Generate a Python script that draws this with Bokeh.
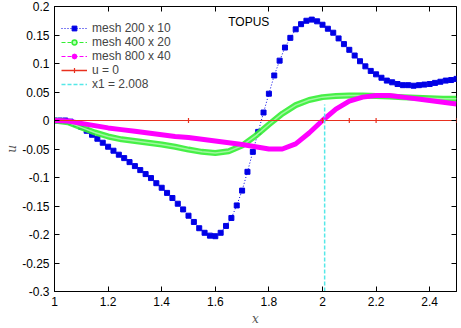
from bokeh.plotting import figure
from bokeh.models import LinearAxis, Range1d, Legend, LegendItem, Label, FixedTicker
from bokeh.embed import file_html
from bokeh.resources import INLINE

# ---------------- data ----------------
xb = [1.00, 1.02, 1.04, 1.06, 1.08, 1.10, 1.12, 1.14, 1.16, 1.18,
      1.20, 1.22, 1.24, 1.26, 1.28, 1.30, 1.32, 1.34, 1.36, 1.38,
      1.40, 1.42, 1.44, 1.46, 1.48, 1.50, 1.52, 1.54, 1.56, 1.58,
      1.60, 1.62, 1.64, 1.66, 1.68, 1.70, 1.72, 1.74, 1.76, 1.78,
      1.80, 1.82, 1.84, 1.86, 1.88, 1.90, 1.92, 1.94, 1.96, 1.98,
      2.00, 2.02, 2.04, 2.06, 2.08, 2.10, 2.12, 2.14, 2.16, 2.18,
      2.20, 2.22, 2.24, 2.26, 2.28, 2.30, 2.32, 2.34, 2.36, 2.38,
      2.40, 2.42, 2.44, 2.46, 2.48, 2.50]
ub = [0.0, 0.0, 0.0, -0.002, -0.006, -0.011, -0.018, -0.025, -0.032, -0.039,
      -0.046, -0.053, -0.060, -0.066, -0.073, -0.080, -0.087, -0.094, -0.101, -0.110,
      -0.118, -0.127, -0.136, -0.146, -0.156, -0.167, -0.178, -0.189, -0.197, -0.202,
      -0.203, -0.197, -0.185, -0.171, -0.149, -0.123, -0.090, -0.055, -0.020, 0.014,
      0.047, 0.079, 0.105, 0.128, 0.145, 0.160, 0.169, 0.175, 0.177, 0.174,
      0.168, 0.161, 0.154, 0.144, 0.134, 0.124, 0.114, 0.104, 0.095, 0.087,
      0.081, 0.075, 0.070, 0.067, 0.064, 0.062, 0.062, 0.061, 0.062, 0.063,
      0.064, 0.066, 0.068, 0.070, 0.071, 0.073]

xg = [1.00, 1.05, 1.10, 1.15, 1.20, 1.25, 1.30, 1.35, 1.40, 1.45,
      1.50, 1.55, 1.60, 1.65, 1.70, 1.75, 1.80, 1.85, 1.90, 1.95,
      2.00, 2.05, 2.10, 2.15, 2.20, 2.25, 2.30, 2.35, 2.40, 2.45, 2.50]
ug = [0.0, -0.003, -0.012, -0.021, -0.028, -0.033, -0.036, -0.039, -0.042, -0.046,
      -0.051, -0.055, -0.057, -0.054, -0.044, -0.027, -0.007, 0.012, 0.027, 0.036,
      0.041, 0.043, 0.044, 0.044, 0.043, 0.042, 0.041, 0.040, 0.039, 0.038, 0.038]

xm = [1.00, 1.05, 1.10, 1.15, 1.20, 1.25, 1.30, 1.35, 1.40, 1.45,
      1.50, 1.55, 1.60, 1.65, 1.70, 1.75, 1.80, 1.85, 1.90, 1.95,
      2.00, 2.05, 2.10, 2.15, 2.20, 2.25, 2.30, 2.35, 2.40, 2.45, 2.50]
um = [0.0, -0.001, -0.005, -0.009, -0.013, -0.016, -0.019, -0.022, -0.025, -0.028,
      -0.030, -0.033, -0.036, -0.039, -0.042, -0.046, -0.050, -0.050, -0.041, -0.022,
      0.000, 0.020, 0.034, 0.041, 0.044, 0.044, 0.041, 0.038, 0.035, 0.032, 0.029]

xr = [1.0, 1.5, 2.0, 2.1, 2.2, 2.5]
ur = [0.0, 0.0, 0.0, 0.0, 0.0, 0.0]

x1 = 2.008
x1_y0 = -0.3
x1_y1 = 0.028

labels = ["mesh 200 x 10", "mesh 400 x 20", "mesh 800 x 40", "u = 0", "x1 = 2.008"]
title_text = "TOPUS"

xticks = [1.0, 1.2, 1.4, 1.6, 1.8, 2.0, 2.2, 2.4]
xtick_labels = ["1", "1.2", "1.4", "1.6", "1.8", "2", "2.2", "2.4"]
yticks = [-0.3, -0.25, -0.2, -0.15, -0.1, -0.05, 0.0, 0.05, 0.1, 0.15, 0.2]
ytick_labels = ["-0.3", "-0.25", "-0.2", "-0.15", "-0.1", "-0.05", "0", "0.05", "0.1", "0.15", "0.2"]

# ---------------- figure ----------------
FONT = "Liberation Sans"
BLUE = "#0000e6"
GREEN = "#33ee33"
MAGENTA = "#ff00ff"
RED = "#e8301e"
CYAN = "#55e8e8"
NAN = float("nan")

p = figure(width=461, height=328, output_backend="svg", toolbar_location=None,
           x_range=Range1d(1.0, 2.5), y_range=Range1d(-0.3, 0.2),
           min_border_left=54, min_border_right=5, min_border_top=6, min_border_bottom=36)
p.background_fill_color = "white"
p.border_fill_color = "white"
p.outline_line_color = "black"
p.outline_line_width = 1
p.xgrid.visible = False
p.ygrid.visible = False

# data renderers
p.line(xb, ub, color=BLUE, line_width=1, line_dash="1 2")
p.scatter(xb, ub, marker="square", size=5, color=BLUE)
p.line(xg, ug, color=GREEN, line_width=6, line_alpha=0.9)
p.line(xg, ug, color="#9ff79f", line_width=1.5)
p.line(xm, um, color=MAGENTA, line_width=5)
p.line(xr, ur, color=RED, line_width=1.2)
p.scatter(xr, ur, marker="cross", size=5, color=RED, line_width=1.2)
p.segment(x0=[x1], y0=[x1_y0], x1=[x1], y1=[x1_y1], color=CYAN, line_width=1.5, line_dash="4 2")

# legend-only renderers (styled like the reference's key samples), never visible in the plot
lx, ly = [x1], [NAN]
lb1 = p.line(lx, ly, color=BLUE, line_width=1, line_dash="1 2")
lb2 = p.scatter(lx, ly, marker="square", size=5, color=BLUE)
lg1 = p.line(lx, ly, color=GREEN, line_width=1, line_dash="4 2")
lg2 = p.scatter(lx, ly, marker="circle", size=6, line_color=GREEN, fill_color="#b8ffb8", line_width=1.5)
lm1 = p.line(lx, ly, color=MAGENTA, line_width=1, line_dash="4 2")
lm2 = p.scatter(lx, ly, marker="circle", size=4, color=MAGENTA)
lr1 = p.line(lx, ly, color=RED, line_width=1.5)
lr2 = p.scatter(lx, ly, marker="cross", size=5, color=RED, line_width=1.2)
lc1 = p.line(lx, ly, color=CYAN, line_width=1.5, line_dash="4 2")

legend = Legend(items=[
    LegendItem(label=labels[0], renderers=[lb1, lb2]),
    LegendItem(label=labels[1], renderers=[lg1, lg2]),
    LegendItem(label=labels[2], renderers=[lm1, lm2]),
    LegendItem(label=labels[3], renderers=[lr1, lr2]),
    LegendItem(label=labels[4], renderers=[lc1]),
], location=(7, 200))
legend.background_fill_alpha = 0
legend.border_line_color = None
legend.label_text_font = FONT
legend.label_text_font_size = "12px"
legend.label_text_line_height = 1.0
legend.label_height = 12
legend.glyph_height = 12
legend.glyph_width = 26
legend.spacing = 0
legend.padding = 2
legend.margin = 0
legend.label_standoff = 5
p.add_layout(legend)

p.add_layout(Label(x=1.725, y=0.172, text=title_text, text_align="center",
                   text_baseline="middle", text_font=FONT, text_font_size="12px",
                   text_color="black"))

# axes
for ax in (p.xaxis[0], p.yaxis[0]):
    ax.major_tick_in = 5
    ax.major_tick_out = 0
    ax.minor_tick_line_color = None
    ax.axis_line_color = "black"
    ax.major_tick_line_color = "black"
    ax.major_label_text_font = FONT
    ax.major_label_text_font_size = "12px"
    ax.major_label_text_color = "black"
    ax.axis_label_text_font = "DejaVu Serif"
    ax.axis_label_text_font_style = "italic"
    ax.axis_label_text_font_size = "12px"
    ax.axis_label_text_color = "#555555"

p.xaxis[0].ticker = FixedTicker(ticks=xticks)
p.xaxis[0].major_label_overrides = {t: s for t, s in zip(xticks, xtick_labels)}
p.xaxis[0].axis_label = "x"
p.xaxis[0].major_label_standoff = 5
p.xaxis[0].axis_label_standoff = 3

p.yaxis[0].ticker = FixedTicker(ticks=yticks)
p.yaxis[0].major_label_overrides = {t: s for t, s in zip(yticks, ytick_labels)}
p.yaxis[0].axis_label = "u"
p.yaxis[0].major_label_standoff = 5
p.yaxis[0].axis_label_standoff = 0

# mirrored ticks (top / right), no labels
top = LinearAxis(ticker=FixedTicker(ticks=xticks),
                 major_label_overrides={t: "" for t in xticks},
                 major_tick_in=5, major_tick_out=0, minor_tick_line_color=None,
                 axis_line_color=None, major_label_standoff=0)
right = LinearAxis(ticker=FixedTicker(ticks=yticks),
                   major_label_overrides={t: "" for t in yticks},
                   major_tick_in=5, major_tick_out=0, minor_tick_line_color=None,
                   axis_line_color=None, major_label_standoff=0)
p.add_layout(top, "above")
p.add_layout(right, "right")

open("out.html", "w").write(file_html(p, INLINE))
